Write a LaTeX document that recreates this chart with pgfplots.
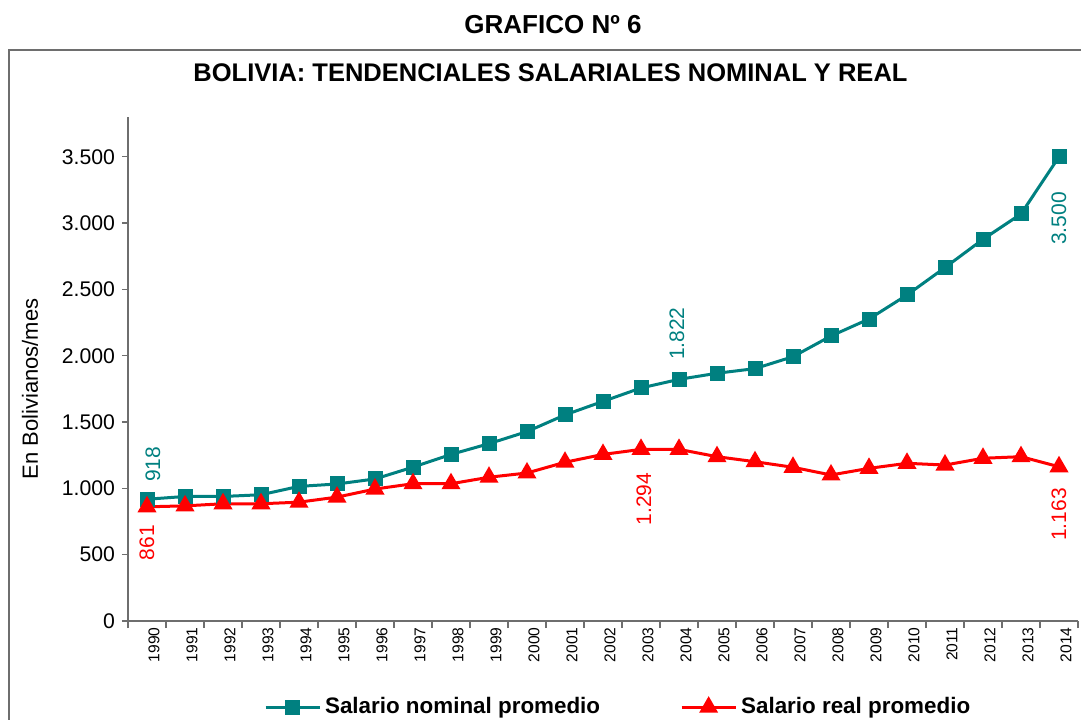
\documentclass[border=0pt]{standalone}
\usepackage{fontspec}
\setmainfont{Liberation Sans}
\usepackage{pgfplots}
\usepackage{pgfplotstable}
\pgfplotsset{compat=1.18}
\definecolor{nomteal}{RGB}{0,128,128}
\definecolor{realred}{RGB}{255,0,0}
\definecolor{axgray}{RGB}{110,110,110}

% year index (0 = 1990), nominal and real average salary
\pgfplotstableread{
x nom real
0 918 861
1 939 868
2 939 884
3 952 884
4 1015 896
5 1033 934
6 1071 995
7 1160 1035
8 1256 1035
9 1337 1084
10 1428 1116
11 1554 1197
12 1656 1256
13 1757 1294
14 1822 1294
15 1868 1239
16 1903 1201
17 1993 1159
18 2149 1101
19 2277 1151
20 2458 1189
21 2665 1176
22 2878 1227
23 3069 1239
24 3500 1163
}\salarios

\begin{document}
\begin{tikzpicture}
\useasboundingbox (0,0) rectangle (540.5pt,359.5pt);
\draw[axgray, line width=0.8pt] (4.5pt,-5pt) -- (4.5pt,334.5pt) -- (560pt,334.5pt);
\node[font=\bfseries\fontsize{13}{15}\selectfont] at (276.5pt,347pt) {GRAFICO Nº 6};
\node[font=\bfseries\fontsize{12.75}{15}\selectfont] at (275.25pt,323pt) {BOLIVIA: TENDENCIALES SALARIALES NOMINAL Y REAL};
\node[rotate=90, font=\fontsize{11}{13}\selectfont] at (15pt,165pt) {En Bolivianos/mes};
\begin{axis}[
    at={(64pt,49pt)}, anchor=south west,
    width=475pt, height=252pt, scale only axis,
    xmin=-0.5, xmax=24.5, ymin=0, ymax=3800,
    axis x line*=bottom, axis y line*=left,
    axis line style={-, axgray, line width=0.8pt},
    tick align=outside,
    xtick={0,...,24},
    xticklabels={1990,1991,1992,1993,1994,1995,1996,1997,1998,1999,2000,2001,2002,2003,2004,2005,2006,2007,2008,2009,2010,2011,2012,2013,2014},
    minor xtick={-0.5,0.5,...,24.5},
    major x tick style={draw=none},
    minor x tick style={axgray, line width=0.7pt},
    minor tick length=3.5pt,
    xticklabel style={rotate=90, anchor=east, inner sep=0pt, yshift=-3.5pt, font=\fontsize{7.8}{9}\selectfont},
    ytick={0,500,...,3500},
    yticklabels={0,500,1.000,1.500,2.000,2.500,3.000,3.500},
    y tick style={axgray, line width=0.7pt},
    major tick length=3pt,
    yticklabel style={font=\fontsize{10.6}{12}\selectfont},
    legend style={at={(0.517,-0.171)}, anchor=center, draw=none, fill=none,
        font=\bfseries\fontsize{11.2}{13}\selectfont,
        /tikz/every even column/.append style={column sep=38pt}},
    legend columns=2,
    legend image code/.code={\draw[#1, mark repeat=2, mark phase=2] plot coordinates {(0pt,0pt) (13.5pt,0pt) (27pt,0pt)};},
]
\addplot[nomteal, line width=1.5pt, mark=square*, mark size=3pt] table[x=x, y=nom] {\salarios};
\addlegendentry{Salario nominal promedio}
\addplot[realred, line width=1.5pt, mark=triangle*, mark size=4pt] table[x=x, y=real] {\salarios};
\addlegendentry{Salario real promedio}

\path (axis cs:0,918) ++(3pt,8.5pt) node[rotate=90, anchor=west, inner sep=0pt, text=nomteal, font=\fontsize{10.5}{12}\selectfont] {918};
\path (axis cs:0,861) ++(0pt,-9pt) node[rotate=90, anchor=east, inner sep=0pt, text=realred, font=\fontsize{10.5}{12}\selectfont] {861};
\path (axis cs:14,1822) ++(-1pt,9.5pt) node[rotate=90, anchor=west, inner sep=0pt, text=nomteal, font=\fontsize{10.5}{12}\selectfont] {1.822};
\path (axis cs:13,1294) ++(1.5pt,-11.5pt) node[rotate=90, anchor=east, inner sep=0pt, text=realred, font=\fontsize{10.5}{12}\selectfont] {1.294};
\path (axis cs:24,3500) ++(0pt,-17.5pt) node[rotate=90, anchor=east, inner sep=0pt, text=nomteal, font=\fontsize{10.5}{12}\selectfont] {3.500};
\path (axis cs:24,1163) ++(0pt,-10.5pt) node[rotate=90, anchor=east, inner sep=0pt, text=realred, font=\fontsize{10.5}{12}\selectfont] {1.163};
\end{axis}
\end{tikzpicture}
\end{document}
